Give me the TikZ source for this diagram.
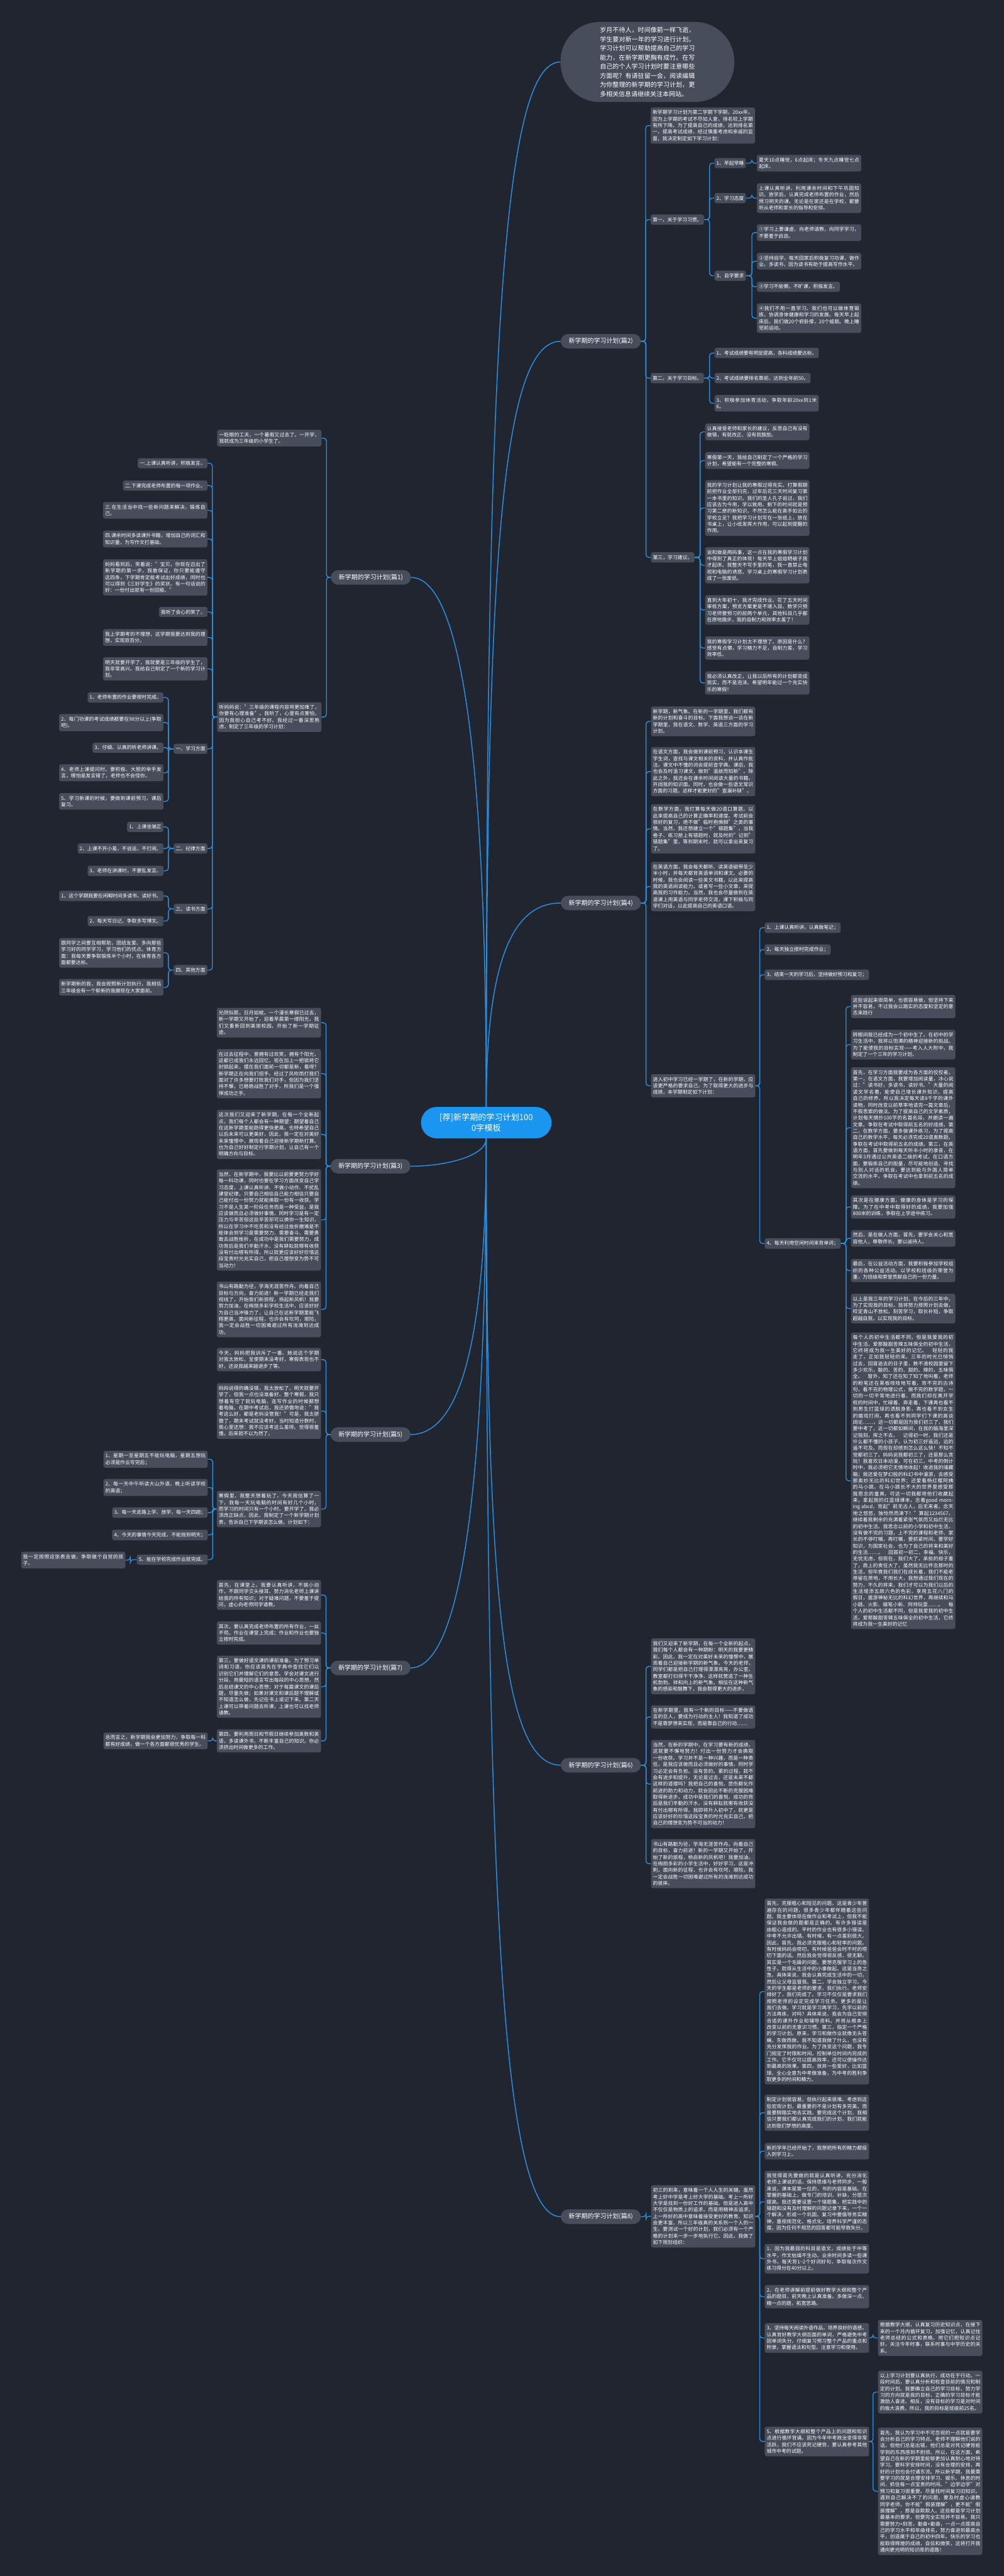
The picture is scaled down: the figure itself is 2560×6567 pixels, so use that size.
\documentclass[tikz,border=0pt]{standalone}
\usepackage{fontspec}
\setmainfont{Noto Sans CJK SC}
\XeTeXlinebreaklocale "zh"
\XeTeXlinebreakskip=0pt plus 1pt minus 0.2pt

\definecolor{bgnavy}{HTML}{212530}
\definecolor{boxgrey}{HTML}{474D5B}
\definecolor{rootblue}{HTML}{1A96F0}
\definecolor{linkblue}{HTML}{2A8FE0}

\tikzset{
  box/.style={fill=boxgrey, text=white, rounded corners=5pt, inner xsep=5pt, inner ysep=7pt,
    font=\fontsize{12.6}{16.6}\selectfont},
  wide/.style={box, text width=256pt, align=justify},
  branch/.style={fill=boxgrey, text=white, rounded corners=18.5pt, minimum width=204pt,
    minimum height=37pt, inner sep=0pt, font=\fontsize{16}{20}\selectfont},
  link/.style={draw=linkblue, line width=2.2pt, rounded corners=7pt},
  trunk/.style={draw=linkblue, line width=2.4pt},
}

\begin{document}
\begin{tikzpicture}[x=1pt,y=-1pt]
    \fill[bgnavy] (0,0) rectangle (2560,6567);
    \useasboundingbox (0,0) rectangle (2560,6567);

    \node[fill=rootblue, text=white, rounded corners=40pt, minimum width=333pt, minimum height=80pt,
        align=center, font=\fontsize{21}{28}\selectfont] (root) at (1240,2862)
        {[荐]新学期的学习计划100\\0字模板};
    \node[fill=boxgrey, text=white, rounded corners=100pt, minimum width=443pt, minimum height=204pt,
        text width=242pt, align=justify, font=\fontsize{16}{23.2}\selectfont] (intro) at (1651,158)
        {岁月不待人，时间像箭一样飞逝，学生要对新一年的学习进行计划。学习计划可以帮助提高自己的学习能力，在新学期更胸有成竹。在写自己的个人学习计划时要注意哪些方面呢？有请驻留一会，阅读编辑为你整理的新学期的学习计划，更多相关信息请继续关注本网站。};

    % right side
    \node[branch, anchor=west] (pa) at (1430,870) {新学期的学习计划(篇2)};
    \node[wide, anchor=west] (pa0) at (1659,320) {新学期学习计划为第二学期下学期，20xx年。因为上学期的考试不尽如人意，排名较上学期有所下降。为了提高自己的成绩，达到排名第一，提高考试成绩，经过慎重考虑和亲戚的监督，我决定制定如下学习计划：};
    \node[box, anchor=west] (pa1) at (1659,560) {第一，关于学习习惯。};
    \node[box, anchor=west] (pa11) at (1822,416) {1、早起早睡};
    \node[wide, anchor=west] (pa11x) at (1930,416) {夏天10点睡觉，6点起床；冬天九点睡觉七点起床。};
    \node[box, anchor=west] (pa12) at (1822,505) {2、学习态度};
    \node[wide, anchor=west] (pa12x) at (1930,505) {上课认真听讲，利用课余时间和下午巩固知识。放学后，认真完成老师布置的作业，然后预习明天的课。无论是在家还是在学校，都要听从老师和家长的指导和安排。};
    \node[box, anchor=west] (pa13) at (1822,703) {3、自学要求};
    \node[wide, anchor=west] (pa13a) at (1930,593) {①学习上要谦虚，向老师请教，向同学学习，不要羞于启齿。};
    \node[wide, anchor=west] (pa13b) at (1930,666) {②坚持自学，每天回家后积极复习功课，做作业。多读书，因为读书有助于提高写作水平。};
    \node[box, anchor=west] (pa13c) at (1930,731) {③学习不偷懒，不旷课，积极发言。};
    \node[wide, anchor=west] (pa13d) at (1930,811) {④我们不用一直学习。我们也可以做体育锻炼，协调身体健康和学习的发展。每天早上起床后，我们做20个俯卧撑，20个蛙跳。晚上睡觉前运动。};
    \node[box, anchor=west] (pa2) at (1659,964) {第二，关于学习目标。};
    \node[wide, anchor=west] (pa2a) at (1822,900) {1、考试成绩要有明显提高，各科成绩要达标。};
    \node[box, anchor=west] (pa2b) at (1822,964) {2、考试成绩要排名靠前，达到全年前50。};
    \node[wide, anchor=west] (pa2c) at (1822,1028) {3、积极参加体育活动，争取年龄20xx到1米6。};
    \node[box, anchor=west] (pa3) at (1660,1421) {第三，学习建议。};
    \node[wide, anchor=west] (pa3a) at (1798,1101) {认真接受老师和家长的建议，反思自己有没有做错，有就改正，没有就鼓励。};
    \node[wide, anchor=west] (pa3b) at (1798,1174) {寒假第一天，我给自己制定了一个严格的学习计划，希望能有一个完整的寒假。};
    \node[wide, anchor=west] (pa3c) at (1798,1295) {我的学习计划让我的寒假过得充实。打算假期前把作业全部扫完，过年后花三天时间复习第一本书里的知识。我们的圣人孔子说过，我们应该古为今用，学以致用。剩下的时间就是预习第二册的新知识。不然怎么能在高手如云的学校立足？我把学习计划写在一张纸上，放在书桌上，让小纸发挥大作用，可以起到提醒的作用。};
    \node[wide, anchor=west] (pa3d) at (1798,1441) {说和做是两码事，这一点在我的寒假学习计划中得到了真正的体现！每天早上姐姐晒被子我才起床。我整天不写手里的笔，我一直禁止电视和电脑的诱惑。学习桌上的寒假学习计划表成了一张废纸。};
    \node[wide, anchor=west] (pa3e) at (1798,1555) {直到大年初十，我才完成作业。花了五天时间审核方案，预览方案更是不堪入目。数学只预习老师要预习的前两个单元，其他科目几乎都在原地踏步。我的自制力和效率太差了！};
    \node[wide, anchor=west] (pa3f) at (1798,1652) {我的寒假学习计划太不理想了。原因是什么？感觉有点懒，学习精力不足，自制力差，学习效率低。};
    \node[wide, anchor=west] (pa3g) at (1798,1741) {我必须认真改正，让我以后所有的计划都变成现实，而不是泡沫。希望明年能过一个充实快乐的寒假！};

    \node[branch, anchor=west] (pb) at (1430,2302) {新学期的学习计划(篇4)};
    \node[wide, anchor=west] (pb1) at (1660,1839) {新学期，新气象。在新的一学期里，我们都有新的计划和奋斗的目标。下面我想谈一谈在新学期里，我在语文、数学、英语三方面的学习计划。};
    \node[wide, anchor=west] (pb2) at (1660,1967) {在语文方面，我会做到课前预习，认识本课生字生词，查找与课文相关的资料，并认真作批注。课文中不懂的词会提前查字典。课后，我也会及时温习课文，做到"温故而知新"。除此之外，我还会在课余时间阅读大量的书籍，开阔我的知识面。同时，也会做一些语文常识方面的习题。这样才能更好的"查漏补缺"。};
    \node[wide, anchor=west] (pb3) at (1660,2113) {在数学方面，我打算每天做20道口算题，以此来提高自己的计算正确率和速度。考试前会很好的复习，绝不做"临时抱佛脚"之类的事情。当然，我还想建立一个"错题集"，当我卷子、练习册上有错题时，就及时的"记到"错题集"里，等到期末时，就可以拿出来复习了。};
    \node[wide, anchor=west] (pb4) at (1660,2260) {在英语方面，我会每天都听、读英语磁带至少半小时，并每天都背英语单词和课文。必要的时候，我也会阅读一些英文书籍，以此来提高我的英语阅读能力。或者写一些小文章，来提高我的习作能力。当然，我也会尽量做到在英语课上用英语与同学老师交流，课下积极与同学们对话，以此提高自己的英语口语。};
    \node[wide, anchor=west] (pb5) at (1660,2768) {进入初中学习已经一学期了，在新的学期，应该更严格的要求自己。为了取得更大的进步与成绩，本学期制定如下计划：};
    \node[box, anchor=west] (pb5a) at (1950,2365) {1、上课认真听讲，认真做笔记；};
    \node[box, anchor=west] (pb5b) at (1950,2421) {2、每天独立按时完成作业；};
    \node[wide, anchor=west] (pb5c) at (1950,2485) {3、结束一天的学习后，坚持做好预习和复习；};
    \node[box, anchor=west] (pb5d) at (1950,3170) {4、每天利用空闲时间来背单词；};
    \node[wide, anchor=west] (pbd1) at (2170,2566) {这些说起来很简单，也很容易做，但坚持下来并不容易，不过我会以踏实的态度和坚定的意志来践行};
    \node[wide, anchor=west] (pbd2) at (2170,2663) {转眼间我已经成为一个初中生了。在初中的学习生活中，我将以饱满的精神迎接新的挑战。为了能使我的目标实现——考入人大附中，我制定了一个三年的学习计划。};
    \node[wide, anchor=west] (pbd3) at (2170,2875) {首先，在学习方面我要成为各方面的佼佼者。第一，在语文方面，我要增加阅读量，冰心说过："读书好，多读书，读好书。"大量的阅读文学名著，能使自己增长课外知识，提高自己的修养，所以我决定每天读8千字的课外读物，同时改变以前草率地读完一篇文章后，不假思索的做法。为了提高自己的文学素质，计划每天摘抄100字的名篇名段，并朗读一遍文章。争取在考试中取得前五名的好成绩。第二，在数学方面，要多做课外练习，为了提高自己的数学水平，每天必须完成20道奥数题。争取在考试中取得前五名的成绩。第三，在英语方面，首先要做到每天听半小时的录音，在明年3月通过公共英语二级的考试。在口语方面，要锻炼自己的胆量，尽可能地创造、寻找与别人对话的机会，要达到能与外国人简单交流的水平。争取在考试中也拿到前五名的成绩。};
    \node[wide, anchor=west] (pbd4) at (2170,3077) {其次是在健康方面，健康的身体是学习的保障。为了在中考中取得好的成绩，我要加强800米的训练，争取在上学途中练习。};
    \node[wide, anchor=west] (pbd5) at (2170,3157) {然后，是在做人方面，首先，要学会关心和宽容他人，尊敬师长。要以诚待人。};
    \node[wide, anchor=west] (pbd6) at (2170,3239) {最后，在公益活动方面，我要积极参加学校组织的各种公益活动。以学校和班级的荣誉为重，为班级和荣誉贡献自己的一份力量。};
    \node[wide, anchor=west] (pbd7) at (2170,3336) {以上是我三年的学习计划。在今后的三年中，为了实现我的目标，我将努力按照计划去做，咬定青山不放松。刻苦学习，取长补短，争取超越自我，以实现我的目标。};
    \node[wide, anchor=west] (pbd8) at (2170,3775) {每个人的初中生活都不同，但是我爱我的初中生活，爱那酸甜苦辣五味俱全的初中生活，它终将成为我一生美好的记忆。　轻轻的我走了，正如我轻轻的来。三年的时光已悄悄过去，回首逝去的日子里，数不清校园里留下多少欢乐，酸的、苦的、甜的、辣的，五味俱全。　窗外，知了还在知了知了地叫着，老师的粉笔还在黑板吱吱地写着，背不完的古诗句，看不完的物理公式，做不完的数学题，一切的一切平常地进行着，而我们却在离开学校的时间中，忙碌着、奔走着，下课再也看不到男生打篮球的洒脱身影，再也看不到女生的嬉戏打闹，再也看不到同学们下课的高谈阔论……，这一切都是因为我们初三了，我们要中考了，这一切都如瞬间，在我的脑海里深记铭刻，挥之不去。　记得初一时，我们还是什么都不懂的小孩子，认为初三好遥远，远的遥不可及。而现在却感到怎么这么快！不知不觉都初三了。妈妈说我都初三了，还是那么贪玩！我喜欢日本动漫，可在初三，中考的倒计时中，我必须把它无情地收起！收进我的储藏箱；我还爱在梦幻般的科幻书中漫游，去感受那奥妙无比的科幻世界；还爱看杨红樱阿姨的马小跳，在马小跳长不大的世界里感受那我思念的童真，可这一切我都将他们收藏起来，拿起我的红蓝绿课本，念着good morning abcd，背起"前无古人，后无来者。念天地之悠悠，独怆然而涕下！"算起1234567，继续着我剩余的充满着紧张气氛而又灿烂无比的初中生活。我思念以前的小学和初中生活，没有做不完的习题，上不完的课程和老师、家长的不停叮嘱，再叮嘱，要抓紧时间，要学好知识，为国家社会，也为了自己的将来和美好的生活……。　回首初一初二，幸福、快乐，无忧无虑，但现在，我们大了，承担的担子重了，肩上的责任大了，虽然我无比怀念那时的生活，但毕竟我们我们在成长着，我们不能老停留在原地，不用长大，我想通过我们现在的努力，不久的将来，我们才可以为我们以后的生活增添五颜六色的色彩，享用五花八门的假日，遨游神秘无比的科幻世界，再继续和马小跳、火影、蜡笔小新、阿帅玩耍……。　每个人的初中生活都不同，但是我爱我的初中生活，爱那酸甜苦辣五味俱全的初中生活，它终将成为我一生美好的记忆};

    \node[branch, anchor=west] (pc) at (1430,4500) {新学期的学习计划(篇6)};
    \node[wide, anchor=west] (pc1) at (1660,4248) {我们又迎来了新学期，在每一个全新的起点，我们每个人都会有一种期盼：明天的我要更精彩。因此，我一定在对美好未来的憧憬中，展现着自己迎接新学期的新气象。今天的老师，同学们都是把自己打理得漂漂亮亮，办公室。教室都打扫得干干净净，这样就营造了一种生机勃勃。祥和向上的新气象。相信在这种新气象的感染和鼓舞下，我会取得更大的进步。};
    \node[wide, anchor=west] (pc2) at (1660,4377) {在新学期里，我有一个新的目标——不要做语言的巨人，要成为行动的主人！我知道了成功不是靠梦想来实现，而是靠自己的行动……};
    \node[wide, anchor=west] (pc3) at (1660,4548) {当然，在新的学期中，在学习要有新的成绩，这就要不懈地努力！付出一份努力才会换取一份收获。学习并不是一种兴趣，而是一种责任，是我应该做而且必须做好的事情，同时学习必定会有负担。没有苦的。累的过程，就不会有进步和提升，无论是过去，还是未来不都这样的道理吗？我把自己的喜悦，悲伤都化作前进的助力和动力，就会因此不断的克服困难取得新进步。成功中是我们的喜悦，成功的背后是我们辛勤的汗水，没有耕耘就哪有收获没有付出哪有所得。我即将升入初中了，就更是应该好好的珍惜这段宝贵的时光充实自己，把自己的理想变为势不可当的动力！};
    \node[wide, anchor=west] (pc4) at (1660,4751) {书山有路勤为径，学海无涯苦作舟。向着自己的目标，奋力前进！新的一学期又开始了，开始了新的旅程，杨启新的风帆吧！我要加油，在绚丽多彩的小学生活中，好好学习，这是冲刺，面向新的征程，也许会有坎坷，艰险，我一定会战胜一切困难避过所有的浅滩到达成功的彼岸。};

    \node[branch, anchor=west] (pd) at (1430,5651) {新学期的学习计划(篇8)};
    \node[wide, anchor=west] (pd0) at (1660,5650) {初三的到来，意味着一个人人生的关键。虽然考上好中学是考上好大学的基础。考上一所好大学是找到一份好工作的基础。但是进入高中不仅仅是物质上的追求。而是用精神去追求。上一所好的高中意味着接受更好的教育。知识会更丰富。所以三年级真的关系到一个人的一生。要测试一个好的计划，我们必须有一个严格的计划来一步一步地执行它。因此，我做了如下规划组织：};
    \node[wide, anchor=west] (pd1) at (1950,5077) {首先，克服粗心和短见的问题。这是青少年普遍存在的问题，很多青少年都伴随着这些问题。我主要体现在做作业和考试上，但我不能保证我会做的题都是正确的。有许多错误是由粗心造成的。平时的作业也有很多小错误。中考不允许出错。有时候，有一点差别很大。因此，首先，我必须克服粗心和轻率的问题。有时候妈妈会唠叨，有时候爸爸会时不时的唠叨下面的话。然后我会觉得很反感，很无聊。其实是一个毛躁的问题。要想克服学习上的急性子，就得从生活中的小事做起。这是当务之急。具体来说，我会认真完成生活中的一切，然后让父母监督我。第二，学会独立学习。今天的学生都是老师的要求，我们执行。老师安排好了，我们完成了。学习不仅仅是要求我们按照老师的设定完成学习任务。更多的是让我们去做。学习就是学习再学习，先学以前的方法再练，对吗？具体来说，我会为自己安排合适的课外作业和辅导资料。并将从根本上改变以前的无意识习惯。第三，指定一个严格的学习计划。原来，学习和做作业就像无头苍蝇，东做西做。我不知道我做了什么，也没有充分发挥我的作业。为了改变这个问题，我专门规定了时限和时间。控制单位时间内完成的工作。它不仅可以提高效率，还可以使操作达到最高的效果。第四，放弃一些爱好，比如篮球。全心全意为中考做准备，为中考的胜利争取更多的时间和精力。};
    \node[wide, anchor=west] (pd2) at (1950,5386) {制定计划很容易，但执行起来很难。考虑到这些宏观计划，最重要的不是计划有多完美。而是要脚踏实地去实践。要完成这个计划，我相信只要我们都认真完成我们的计划，我们就能达到我们梦想的高度。};
    \node[wide, anchor=west] (pd3) at (1950,5484) {新的学年已经开始了，我想把所有的精力都投入到学习上。};
    \node[wide, anchor=west] (pd4) at (1950,5613) {我觉得首先要做的就是认真听讲，充分消化老师上课说的话，保持思维与老师同步。一般来说，课本是第一位的，书的内容是基础。在掌握的基础上，做专门的培训，补缺，分层次提高。我还需要设置一个错题集，把实践中的错题和没有及时理解的问题记录下来，一个一个解决，形成一个巩固。复习中要倡导务实精神，重视规范化、格式化，培养科学严谨的态度。因为任何不规范的回答都可能导致失分。};
    \node[wide, anchor=west] (pd5) at (1950,5758) {1、因为我最弱的科目是语文，成绩处于中等水平，作文枯燥不生动。业余时间多读一些课外书，每天背1\textasciitilde 2个好词好句，争取每次作文练习得分在40分以上。};
    \node[wide, anchor=west] (pd6) at (1950,5855) {2、在老师讲解前提前做好教学大纲和整个产品的题目，前天晚上认真准备。多做深一点、精一点的题，拓宽思路。};
    \node[wide, anchor=west] (pd7) at (1950,5960) {3、坚持每天阅读外语作品，培养良好的语感。认真背好教学大纲后面的单词，严格避免中考因单词失分。仔细复习预习整个产品的重点和附录，掌握语法和句型。注意学习和使用。};
    \node[wide, anchor=west] (pd7x) at (2239,5960) {根据教学大纲，认真复习历史知识点，在接下来的一个月内循环复习，加强记忆，认真记住老师总结的公式和表格，用它们把知识点记好，关注今年时事，联系时事与中学历史的关系。};
    \node[wide, anchor=west] (pd8) at (1950,6224) {5、根据教学大纲和整个产品上的问题和知识点进行循环背诵。因为今年中考政治变得非常活跃，我们不应该死记硬背，要认真参考其他城市中考的试题。};
    \node[wide, anchor=west] (pd8a) at (2239,6098) {以上学习计划要认真执行，成功在于行动。一段时间后，要认真分析和检查目前的情况和制定的计划。我要确立自己的学习目标，努力学习的方向就是我的目标，正确的学习目标才能激励人奋进。相反，没有目标的学习是对时间的极大浪费。所以，我的目标是班级前25名。};
    \node[wide, anchor=west] (pd8b) at (2239,6351) {首先，我认为学习中不可忽视的一点就是要学会分析自己的学习特点。老师不理解他们说的话，但他们总是出错，他们总是对死记硬背能学到的东西感到不耐烦。所以，在这方面，希望自己在新的学期里能够更加认真耐心地对待学习。要科学安排时间，没有合理的安排，再好的计划也会付诸东流。所以新学期，我最需要学习的就是合理安排学习、娱乐、休息的时间，抓住每一点宝贵的时间。"边学边学"对预习和复习很重要。尽量找时间复习旧知识。遇到自己解决不了的问题，要及时虚心请教同学老师。你不能"假装理解"，更不能"假装理解"，那是自欺欺人。这些都是学习计划最基本的要求，但要完全实现并不容易。我只需要努力+刻苦，勤奋+勤奋，一点一点提高自己的学习水平和年级排名，努力奋进到最高水平，创造属于自己的初中四年。快乐的学习也能取得辉煌的成绩，自信和微笑，这将打开我通向更光明的知识库的道路！};

    % left side
    \node[branch, anchor=east] (qa) at (1048,1472) {新学期的学习计划(篇1)};
    \node[wide, anchor=east] (qa1) at (820,1117) {一眨眼的工夫，一个暑假又过去了。一开学，我就成为三年级的小学生了。};
    \node[wide, anchor=east] (qa2) at (820,1828) {听妈妈说："三年级的课程内容将更加难了，你要有心理准备"。我听了，心里有点害怕，因为我担心自己考不好。我经过一番深思熟虑，制定了三年级的学习计划：};
    \node[box, anchor=east] (qa2a) at (529,1181) {一.上课认真听讲，积极发言。};
    \node[box, anchor=east] (qa2b) at (529,1238) {二.下课完成老师布置的每一项作业。};
    \node[wide, anchor=east] (qa2c) at (529,1301) {三.在生活当中找一些新问题来解决，锻炼自己。};
    \node[wide, anchor=east] (qa2d) at (529,1374) {四.课余时间多读课外书籍，增加自己的词汇和知识量，为写作文打基础。};
    \node[wide, anchor=east] (qa2e) at (529,1472) {妈妈看到后，笑着说："宝贝，你现在迈出了新学期的第一步，我敢保证，你只要能遵守这四条，下学期肯定能考试出好成绩，同时也可以得到《三好学生》的奖状。有一句话说的好：一份付出就有一份回报。"};
    \node[box, anchor=east] (qa2f) at (529,1560) {我听了会心的笑了。};
    \node[wide, anchor=east] (qa2g) at (529,1625) {我上学期考的不理想，这学期我要达到我的理想，实现双百分。};
    \node[wide, anchor=east] (qa2h) at (529,1705) {明天就要开学了，我就要是三年级的学生了，我非常高兴。我给自己制定了一个新的学习计划。};
    \node[box, anchor=east] (qa2i) at (529,1909) {一、学习方面};
    \node[box, anchor=east] (qai1) at (417,1778) {1、老师布置的作业要按时完成。};
    \node[wide, anchor=east] (qai2) at (417,1842) {2、每门功课的考试成绩都要在98分以上(争取吧)。};
    \node[box, anchor=east] (qai3) at (417,1906) {3、仔细、认真的听老师讲课。};
    \node[wide, anchor=east] (qai4) at (417,1970) {4、老师上课提问时，要积极、大胆的举手发言，哪怕是发言错了，老师也不会怪你。};
    \node[wide, anchor=east] (qai5) at (417,2043) {5、学习新课的时候，要做到课前预习，课后复习。};
    \node[box, anchor=east] (qa2j) at (529,2163) {二、纪律方面};
    \node[box, anchor=east] (qaj1) at (417,2108) {1、上课坐端正};
    \node[box, anchor=east] (qaj2) at (417,2163) {2、上课不开小差，不说话，不打闹。};
    \node[box, anchor=east] (qaj3) at (417,2220) {3、老师在讲课时，不要乱发言。};
    \node[box, anchor=east] (qa2k) at (529,2317) {三、读书方面};
    \node[wide, anchor=east] (qak1) at (417,2284) {1、这个学期我要在闲暇时间多读书，读好书。};
    \node[box, anchor=east] (qak2) at (417,2348) {2、每天写日记、争取多写博文。};
    \node[box, anchor=east] (qa2l) at (529,2473) {四、其他方面};
    \node[wide, anchor=east] (qal1) at (417,2429) {跟同学之间要互相帮助，团结友爱。多向那些学习好的同学学习，学习他们的优点。体育方面：我每天要争取锻炼半个小时，在体育各方面都要达标。};
    \node[wide, anchor=east] (qal2) at (417,2517) {新学期新的我，我会按照新计划执行，我相信三年级会有一个崭新的我展现在大家面前。};

    \node[branch, anchor=east] (qb) at (1047,2973) {新学期的学习计划(篇3)};
    \node[wide, anchor=east] (qb1) at (819,2607) {光阴似箭，日月如梭。一个漫长寒假已过去，新一学期又开始了，迎着早晨第一缕阳光，我们又重新回到美丽校园，开始了新一学期征途。};
    \node[wide, anchor=east] (qb2) at (819,2737) {在过去征程中，曾拥有过欢笑，拥有个阳光，这都已成我们永远回忆，现在加上一把锁将它封锁起来，摆在我们面前一切都是新，看呀？新学期正在向我们招手。经过了风吹雨打我们面对了许多想要打败我们对手，但因为我们坚持不懈，已稳稳战胜了对手，所我们是一个强悍成功之手。};
    \node[wide, anchor=east] (qb3) at (819,2892) {这次我们又迎来了新学期，在每一个全新起点，我们每个人都会有一种期望：期望着自己在这新学期里能跑得更快更高，也特希望自己以后未来可以更美好，因此，我一定在对美好未来憧憬中，展现着自己迎接新学期新打算。也为自己好好制定行学期计划，让自己有一个明确方向与目标。};
    \node[wide, anchor=east] (qb4) at (819,3110) {当然，在新学期中，我要比以前要更努力学好每一科功课，同时也要在学习方面改变自己学习态度，上课认真听讲、不做小动作、不扰乱课堂纪律。只要自己相信自己能力相信只要自己能付出一份努力就能换取一份有一收获。学习不是人生某一阶段任务而是一种受益，是我应该做而且必须做好事情，同时学习是有一定压力与辛苦但这些辛苦却可以换你一生知识，所以在学习中不吃苦和没有经过挫折磨难是不能体会到学习是需要努力、需要奋斗、需要勇敢去战胜挫折，在成功中是我们需要努力，成功背后是我们辛勤汗水，没有耕耘就哪有收获没有付出哪有所得。所以就更应该好好珍惜这段宝贵时光充实自己，把自己理想变为势不可当动力！};
    \node[wide, anchor=east] (qb5) at (819,3338) {书山有路勤为径，学海无涯苦作舟。向着自己目标与方向，奋力前进！新一学期已经走我们视线了，开始我们新旅程，扬起新风帆！我要努力加油，在绚丽多彩学校生活中，应该好好为自己当冲锋力了，让自己在这新学期里能飞翔更高，面向新征程，也许会有坎坷，艰险，我一定会战胜一切困难避过所有浅滩到达成功。};

    \node[branch, anchor=east] (qc) at (1047,3657) {新学期的学习计划(篇5)};
    \node[wide, anchor=east] (qc1) at (819,3466) {今天，妈妈把我训斥了一番，她说这个学期对我太放松，至使期末没考好，寒假表现也不好，还说我越来越退步了等。};
    \node[wide, anchor=east] (qc2) at (819,3597) {妈妈说得的确没错，我太放松了，明天就要开学了，但我一点也没准备好。整个寒假，我只想着有空了就玩电脑，连写作业的时候都想着电脑。在期中考试后，我还骄傲地说："我考这么好，都是老妈没管我！"可是，我太骄傲了，期末考试就没考好。当时知道分数时，我心里还想：我不应该考这么差呀。觉得很羞愧。后来就不以为然了。};
    \node[wide, anchor=east] (qc3) at (819,3847) {寒假里，我整天想着玩了，今天我估算了一下，我每一天玩电脑的时间有好几个小时，而学习的时间只有一个小时。要开学了，我必须改正缺点，因此，我制定了一个新学期计划表，告诉自己下学期该怎么做。计划如下：};
    \node[wide, anchor=east] (qc3a) at (530,3720) {1、星期一至星期五不能玩电脑，星期五想玩必须是作业写完后；};
    \node[wide, anchor=east] (qc3b) at (530,3792) {2、每一天中午听读大山外语，晚上听读学校的英语；};
    \node[box, anchor=east] (qc3c) at (530,3856) {3、每一天走路上学、放学，每一天四趟；};
    \node[box, anchor=east] (qc3d) at (530,3913) {4、今天的事情今天完成，不能拖到明天；};
    \node[box, anchor=east] (qc3e) at (530,3976) {5、能在学校完成作业就完成。};
    \node[wide, anchor=east] (qc3x) at (320,3977) {我一定按照这张表去做，争取做个自觉的孩子。};

    \node[branch, anchor=east] (qd) at (1047,4252) {新学期的学习计划(篇7)};
    \node[wide, anchor=east] (qd1) at (819,4066) {首先，在课堂上，我要认真听讲，不搞小动作，不跟同学交头接耳，努力消化老师上课讲给我的所有知识；对于疑难问题，不要羞于提问，虚心向老师同学请教。};
    \node[wide, anchor=east] (qd2) at (819,4163) {其次，要认真完成老师布置的所有作业，一丝不苟。作业在课堂上完成；作业和作业也要独立按时完成。};
    \node[wide, anchor=east] (qd3) at (819,4300) {第三，要做好语文课的课前准备。为了预习单词和习语，你应该首先在字典中查找它们以识别它们并理解它们的意思。学会对课文进行分段，用最短的语言写出每段的中心思想，然后总结课文的中心思想；对于每篇课文的课后题，尽量先做；如果对课文和课后题不理解或不知道怎么做，先记在书上或记下来。第二天上课可以带着问题去听课，上课也可以找老师请教。};
    \node[wide, anchor=east] (qd4) at (819,4438) {第四，要利用周日和节假日继续参加奥数和英语，多读课外书，不断丰富自己的知识。你必须挤出时间做更多的工作。};
    \node[wide, anchor=east] (qd4x) at (530,4438) {总而言之，新学期我会更加努力，争取每一科都有好成绩，做一个各方面都很优秀的学生。};

    % root to branches
    \draw[trunk] (root.north) .. controls +(0,-1900) and +(-150,0) .. (intro.west);
    \draw[trunk] (root.north) .. controls +(0,-1400) and +(-150,0) .. (pa.west);
    \draw[trunk] (root.north) .. controls +(0,-380) and +(-120,0) .. (pb.west);
    \draw[trunk] (root.south) .. controls +(0,1150) and +(-150,0) .. (pc.west);
    \draw[trunk] (root.south) .. controls +(0,1950) and +(-150,0) .. (pd.west);
    \draw[trunk] (root.north) .. controls +(0,-950) and +(120,0) .. (qa.east);
    \draw[trunk] (root.south) .. controls +(0,45) and +(90,0) .. (qb.east);
    \draw[trunk] (root.south) .. controls +(0,540) and +(120,0) .. (qc.east);
    \draw[trunk] (root.south) .. controls +(0,950) and +(120,0) .. (qd.east);

    % right brackets
    \foreach \p/\c in {pa/pa0,pa/pa1,pa/pa2,pa/pa3,pa1/pa11,pa1/pa12,pa1/pa13,pa11/pa11x,pa12/pa12x,
        pa13/pa13a,pa13/pa13b,pa13/pa13c,pa13/pa13d,pa2/pa2a,pa2/pa2b,pa2/pa2c,
        pa3/pa3a,pa3/pa3b,pa3/pa3c,pa3/pa3d,pa3/pa3e,pa3/pa3f,pa3/pa3g,
        pb/pb1,pb/pb2,pb/pb3,pb/pb4,pb/pb5,pb5/pb5a,pb5/pb5b,pb5/pb5c,pb5/pb5d,
        pb5d/pbd1,pb5d/pbd2,pb5d/pbd3,pb5d/pbd4,pb5d/pbd5,pb5d/pbd6,pb5d/pbd7,pb5d/pbd8,
        pc/pc1,pc/pc2,pc/pc3,pc/pc4,pd/pd0,pd0/pd1,pd0/pd2,pd0/pd3,pd0/pd4,pd0/pd5,pd0/pd6,
        pd0/pd7,pd0/pd8,pd7/pd7x,pd8/pd8a,pd8/pd8b}
        \draw[link] (\p.east) -| ([xshift=-12.5pt]\c.west) -- (\c.west);

    % left brackets
    \foreach \p/\c in {qa/qa1,qa/qa2,qa2/qa2a,qa2/qa2b,qa2/qa2c,qa2/qa2d,qa2/qa2e,qa2/qa2f,qa2/qa2g,
        qa2/qa2h,qa2/qa2i,qa2/qa2j,qa2/qa2k,qa2/qa2l,qa2i/qai1,qa2i/qai2,qa2i/qai3,qa2i/qai4,qa2i/qai5,
        qa2j/qaj1,qa2j/qaj2,qa2j/qaj3,qa2k/qak1,qa2k/qak2,qa2l/qal1,qa2l/qal2,
        qb/qb1,qb/qb2,qb/qb3,qb/qb4,qb/qb5,qc/qc1,qc/qc2,qc/qc3,qc3/qc3a,qc3/qc3b,qc3/qc3c,
        qc3/qc3d,qc3/qc3e,qc3e/qc3x,qd/qd1,qd/qd2,qd/qd3,qd/qd4,qd4/qd4x}
        \draw[link] (\p.west) -| ([xshift=12.5pt]\c.east) -- (\c.east);
\end{tikzpicture}
\end{document}
